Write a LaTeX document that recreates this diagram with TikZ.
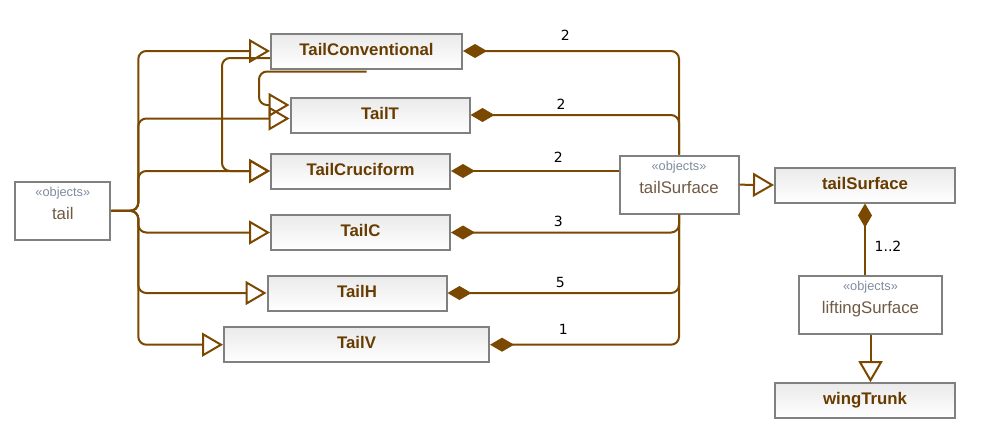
\documentclass[tikz,border=0pt]{standalone}
\usepackage{fontspec}
\setmainfont{Liberation Sans}
\newfontfamily\numfont{DejaVu Sans}
\usetikzlibrary{arrows.meta, calc}
\definecolor{lnbrown}{RGB}{122,72,0}
\definecolor{txtbrown}{RGB}{104,60,0}
\definecolor{boxgray}{RGB}{128,128,128}
\definecolor{boxtop}{RGB}{234,234,234}
\definecolor{stgray}{RGB}{128,140,160}
\definecolor{namegray}{RGB}{112,90,68}

\begin{document}
\begin{tikzpicture}
      [
        x=1pt, y=-1pt,
        clsbox/.style={draw=boxgray, line width=2pt, top color=boxtop, bottom color=white,
          minimum height=35pt, inner sep=0pt, text height=12pt, text depth=3.5pt,
          font=\fontsize{16.8}{18}\selectfont\bfseries, text=txtbrown},
        objbox/.style={draw=boxgray, line width=2pt, fill=white, minimum height=58pt, inner sep=0pt},
        stereo/.style={anchor=base, text=stgray, font=\fontsize{12.8}{14}\selectfont},
        objname/.style={anchor=base, text=namegray, font=\fontsize{16.8}{18}\selectfont},
        gen/.style={draw=lnbrown, line width=2pt, rounded corners=8pt,
          -{Triangle[open, length=21pt, width=24pt]}},
        comp/.style={draw=lnbrown, line width=2pt, rounded corners=8pt,
          -{Diamond[length=24pt, width=14pt]}},
        mult/.style={anchor=base, font=\numfont\fontsize{14}{16}\selectfont}
      ]
      \useasboundingbox (0,0) rectangle (995,434);
      % object boxes
      \node [objbox, minimum width=95pt] (tail) at (62.8,210.8) {};
      \node [stereo] (tailst) at ($(tail.north)+(0,15.7)$) {«objects»};
      \node [objname] (tailnm) at ($(tail.north)+(0,39)$) {tail};
      \node [objbox, minimum width=119pt] (tsobj) at (679,184.7) {};
      \node [stereo] (tsobjst) at ($(tsobj.north)+(0,16)$) {«objects»};
      \node [objname] (tsobjnm) at ($(tsobj.north)+(0,38.3)$) {tailSurface};
      \node [objbox, minimum width=143pt] (lift) at (870.5,304.7) {};
      \node [stereo] (liftst) at ($(lift.north)+(0,16)$) {«objects»};
      \node [objname] (liftnm) at ($(lift.north)+(0,38.3)$) {liftingSurface};
      % classes
      \node [clsbox, minimum width=191pt] (tconv) at (366.5,51) {TailConventional};
      \node [clsbox, minimum width=179pt] (tt) at (380,115) {TailT};
      \node [clsbox, minimum width=179pt] (tcruc) at (360.5,171) {TailCruciform};
      \node [clsbox, minimum width=179pt] (tc) at (360.5,232.5) {TailC};
      \node [clsbox, minimum width=179pt] (th) at (357,293) {TailH};
      \node [clsbox, minimum width=265pt] (tv) at (356.5,344.7) {TailV};
      \node [clsbox, minimum width=180pt] (tscls) at (865,185) {tailSurface};
      \node [clsbox, minimum width=180pt] (wing) at (865,400.7) {wingTrunk};
      % generalizations from tail
      \foreach \n/\dy in {tconv/0, tt/-3.5, tcruc/0, tc/0, th/0, tv/0} {
          \draw [gen] (tail.east) -- ++(27,0) |- ([yshift=\dy pt]\n.west);
      }
      \draw [gen] ([yshift=-7pt]tconv.west) -- ++(-48,0) |- (tcruc.west);
      \draw [gen] ([yshift=-2pt]tconv.south) -- ++(-107.5,0) |- ([yshift=10pt]tt.west);
      % compositions into tailSurface
      \foreach \n in {tconv, tt} {
          \draw [comp] (tsobj.north) |- (\n.east);
      }
      \draw [comp] (tsobj.west |- tcruc.east) -- (tcruc.east);
      \foreach \n in {tc, th, tv} {
          \draw [comp] (tsobj.south) |- (\n.east);
      }
      % multiplicities
      \node [mult] (m1) at (565.3,40) {2};
      \node [mult] (m2) at (561,109) {2};
      \node [mult] (m3) at (558.3,162.7) {2};
      \node [mult] (m4) at (558.3,226) {3};
      \node [mult] (m5) at (560.3,287.3) {5};
      \node [mult] (m6) at (563.3,334) {1};
      % right column
      \draw [gen] (tsobj.east) -- (tscls.west);
      \draw [comp] (lift.north -| tscls.south) -- (tscls.south);
      \node [mult] (m7) at (888,251) {1..2};
      \draw [gen] (lift.south) -- (wing.north -| lift.south);
\end{tikzpicture}
\end{document}
